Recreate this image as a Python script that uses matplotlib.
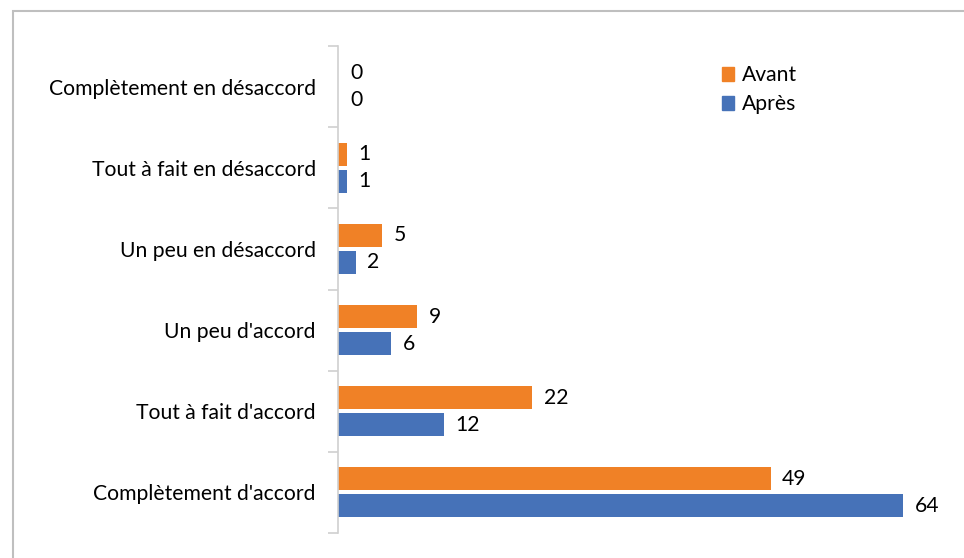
import matplotlib.pyplot as plt
import numpy as np
from matplotlib.patches import Patch, Rectangle

categories = ['Complètement en désaccord', 'Tout à fait en désaccord',
              'Un peu en désaccord', "Un peu d'accord",
              "Tout à fait d'accord", "Complètement d'accord"]
avant = [0, 1, 5, 9, 22, 49]
apres = [0, 1, 2, 6, 12, 64]

orange = '#F08126'
blue = '#4672B8'
plt.rcParams['font.family'] = ['Lato', 'DejaVu Sans']
fs = 15.2

fig = plt.figure(figsize=(9.64, 5.58), dpi=100)
W, H = 964, 558
fig.patches.append(Rectangle((13 / W, -0.1), 1.1, 1 - 11 / H + 0.1,
                             transform=fig.transFigure, fill=False,
                             edgecolor='#BFBFBF', linewidth=1.5))

ax = fig.add_axes([338 / W, (H - 533) / H, 618 / W, 487 / H])
y = np.arange(len(categories))
h = 0.283
off = 0.166
ax.barh(y - off, avant, height=h, color=orange, label='Avant')
ax.barh(y + off, apres, height=h, color=blue, label='Après')

for yi, a, b in zip(y, avant, apres):
    ax.text(a + 1.3 if a else 1.4, yi - off, str(a), va='center', ha='left', fontsize=fs)
    ax.text(b + 1.3 if b else 1.4, yi + off, str(b), va='center', ha='left', fontsize=fs)

ax.set_xlim(0, 70)
ax.set_ylim(len(categories) - 0.5, -0.5)
ax.set_yticks(y)
ax.set_yticklabels(categories, fontsize=fs)
ax.set_yticks(np.arange(-0.5, len(categories), 1), minor=True)
ax.tick_params(axis='y', which='major', length=0, pad=16)
ax.tick_params(axis='y', which='minor', length=7, color='#D0D0D0', width=1.2)
ax.set_xticks([])
for s in ['top', 'right', 'bottom']:
    ax.spines[s].set_visible(False)
ax.spines['left'].set_color('#D0D0D0')
ax.spines['left'].set_linewidth(1.2)

ax.legend(handles=[Patch(color=orange, label='Avant'), Patch(color=blue, label='Après')],
          loc='upper left', bbox_to_anchor=(0.59, 0.999), frameon=False,
          fontsize=fs, handlelength=0.6, handleheight=0.6, handletextpad=0.35,
          labelspacing=0.42)

fig.savefig('out.png', dpi=100)
